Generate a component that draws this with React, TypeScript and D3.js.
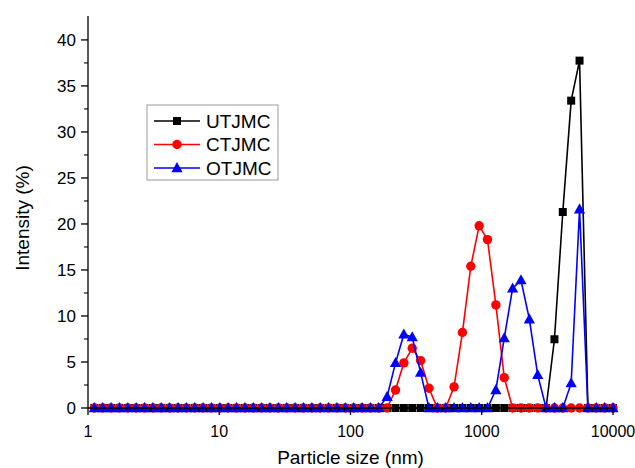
import React from "react";
import * as d3 from "d3";

// Particle size bins (nm), Malvern-style log spacing, visible range 1–10000
const sizes = [
  1.117, 1.294, 1.499, 1.736, 2.01, 2.328, 2.696, 3.122, 3.615, 4.187, 4.849, 5.615, 6.503, 7.531, 8.721,
  10.1, 11.7, 13.54, 15.69, 18.17, 21.04, 24.36, 28.21, 32.67, 37.84, 43.82, 50.75, 58.77, 68.06, 78.82,
  91.28, 105.7, 122.4, 141.8, 164.2, 190.1, 220.2, 255.0, 295.3, 342.0, 396.1, 458.7, 531.2, 615.1, 712.4,
  825.0, 955.4, 1106, 1281, 1484, 1718, 1990, 2305, 2669, 3091, 3580, 4145, 4801, 5560, 6439, 7456, 8635, 10000,
];

const utjmc = [
  0, 0, 0, 0, 0, 0, 0, 0, 0, 0, 0, 0, 0, 0, 0,
  0, 0, 0, 0, 0, 0, 0, 0, 0, 0, 0, 0, 0, 0, 0,
  0, 0, 0, 0, 0, 0, 0, 0, 0, 0, 0, 0, 0, 0, 0,
  0, 0, 0, 0, 0, 0, 0, 0, 0, 0, 7.47, 21.3, 33.4, 37.75, 0, 0, 0, 0,
];

const ctjmc = [
  0, 0, 0, 0, 0, 0, 0, 0, 0, 0, 0, 0, 0, 0, 0,
  0, 0, 0, 0, 0, 0, 0, 0, 0, 0, 0, 0, 0, 0, 0,
  0, 0, 0, 0, 0, 0, 1.95, 4.9, 6.5, 5.15, 2.15, 0, 0, 2.3, 8.2,
  15.4, 19.8, 18.3, 11.2, 3.3, 0, 0, 0, 0, 0, 0, 0, 0, 0, 0, 0, 0, 0,
];

const otjmc = [
  0, 0, 0, 0, 0, 0, 0, 0, 0, 0, 0, 0, 0, 0, 0,
  0, 0, 0, 0, 0, 0, 0, 0, 0, 0, 0, 0, 0, 0, 0,
  0, 0, 0, 0, 0, 1.23, 4.9, 8.0, 7.7, 3.85, 0, 0, 0, 0, 0,
  0, 0, 0, 1.96, 7.6, 13.0, 13.9, 9.65, 3.6, 0, 0, 0, 2.7, 21.6, 0, 0, 0, 0,
];

const seriesNames = ["UTJMC", "CTJMC", "OTJMC"];
const seriesColors = ["#000000", "#ff0000", "#0000ff"];
const seriesMarkers = ["square", "circle", "triangle"];

const xTickValues = [1, 10, 100, 1000, 10000];
const xTickLabels = ["1", "10", "100", "1000", "10000"];
const yTickValues = [0, 5, 10, 15, 20, 25, 30, 35, 40];
const yMinorValues = [2.5, 7.5, 12.5, 17.5, 22.5, 27.5, 32.5, 37.5];

const W = 635;
const H = 468;
const left = 88;
const right = 613;
const bottom = 408;
const top = 16;
const font = "'Liberation Sans', Arial, sans-serif";

function Marker({ type, x, y, color }: { type: string; x: number; y: number; color: string }) {
  if (type === "square") {
    return <rect x={x - 4} y={y - 4} width={8} height={8} fill={color} />;
  }
  if (type === "circle") {
    return <circle cx={x} cy={y} r={4.7} fill={color} />;
  }
  const s = 5.6;
  return (
    <path
      d={`M${x},${y - s * 1.05} L${x + s},${y + s * 0.75} L${x - s},${y + s * 0.75} Z`}
      fill={color}
    />
  );
}

export default function App() {
  const x = d3.scaleLog().domain([1, 10000]).range([left, right]);
  const y = d3.scaleLinear().domain([0, 42.6]).range([bottom, top]);
  const data = [utjmc, ctjmc, otjmc];
  const line = d3
    .line<number>()
    .x((_, i) => x(sizes[i]))
    .y((v) => y(v));

  const xMinor = x.ticks().filter((t) => !xTickValues.includes(t));

  return (
    <svg
      width={W}
      height={H}
      style={{ position: "absolute", left: 0, top: 0, background: "#fff" }}
      fontFamily={font}
    >
      <rect width={W} height={H} fill="#fff" />
      {data.map((vals, si) => (
        <g key={si}>
          <path d={line(vals) || ""} fill="none" stroke={seriesColors[si]} strokeWidth={1.6} />
          {vals.map((v, i) => (
            <Marker key={i} type={seriesMarkers[si]} x={x(sizes[i])} y={y(v)} color={seriesColors[si]} />
          ))}
        </g>
      ))}

      {/* axes */}
      <line x1={left} x2={right} y1={bottom} y2={bottom} stroke="#000" strokeWidth={1.3} />
      <line x1={left} x2={left} y1={bottom} y2={top} stroke="#000" strokeWidth={1.3} />
      {xTickValues.map((t, i) => (
        <g key={t}>
          <line x1={x(t)} x2={x(t)} y1={bottom} y2={bottom + 7} stroke="#000" strokeWidth={1.3} />
          <text x={x(t)} y={437} textAnchor="middle" fontSize={16}>
            {xTickLabels[i]}
          </text>
        </g>
      ))}
      {xMinor.map((t) => (
        <line key={t} x1={x(t)} x2={x(t)} y1={bottom} y2={bottom + 4} stroke="#000" strokeWidth={1.1} />
      ))}
      {yTickValues.map((t) => (
        <g key={t}>
          <line x1={left - 7} x2={left} y1={y(t)} y2={y(t)} stroke="#000" strokeWidth={1.3} />
          <text x={76} y={y(t)} dy="0.36em" textAnchor="end" fontSize={17}>
            {t}
          </text>
        </g>
      ))}
      {yMinorValues.map((t) => (
        <line key={t} x1={left - 4} x2={left} y1={y(t)} y2={y(t)} stroke="#000" strokeWidth={1.1} />
      ))}

      <text x={(left + right) / 2} y={464} textAnchor="middle" fontSize={19}>
        Particle size (nm)
      </text>
      <text transform="translate(29,218) rotate(-90)" textAnchor="middle" fontSize={19}>
        Intensity (%)
      </text>

      {/* legend */}
      <rect x={147} y={105} width={131} height={75} fill="#fff" stroke="#9a9a9a" strokeWidth={1} />
      {seriesNames.map((n, i) => {
        const ly = 121 + i * 23.5;
        return (
          <g key={n}>
            <line x1={154} x2={200} y1={ly} y2={ly} stroke={seriesColors[i]} strokeWidth={1.6} />
            <Marker type={seriesMarkers[i]} x={177} y={ly} color={seriesColors[i]} />
            <text x={206} y={ly} dy="0.36em" fontSize={19}>
              {n}
            </text>
          </g>
        );
      })}
    </svg>
  );
}
